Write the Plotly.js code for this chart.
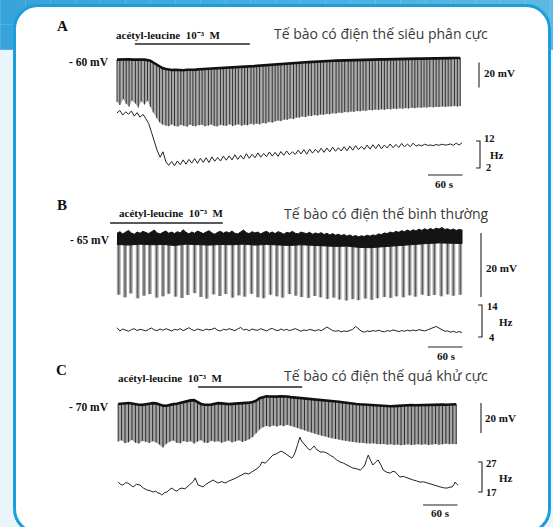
<!DOCTYPE html>
<html><head><meta charset="utf-8">
<script src="https://cdn.plot.ly/plotly-3.0.1.min.js"></script>
<style>
html,body{margin:0;padding:0;}
body{width:553px;height:527px;overflow:hidden;position:relative;background:#eaf5fb;}
#band{position:absolute;left:0;top:0;width:553px;height:50px;
 background:
  repeating-linear-gradient(0deg, rgba(255,255,255,0.13) 0 1px, transparent 1px 25px),
  repeating-linear-gradient(90deg, rgba(255,255,255,0.13) 0 1px, transparent 1px 25px),
  linear-gradient(90deg,#36a3da,#5cb9e4);}
#card{position:absolute;left:13px;top:4px;width:538px;height:530px;box-sizing:border-box;border:3px solid #1a9fdc;border-radius:25px;background:#fff;}
#chart{position:absolute;left:0;top:0;width:553px;height:527px;}
</style></head>
<body><div id="band"></div><div id="card"></div><div id="chart"></div>
<script>
// ---------------- DATA (time in s, potential in mV, frequency in Hz) ----------------
const t5 = [0,5,10,15,20,25,30,35,40,45,50,55,60,65,70,75,80,85,90,95,100,105,110,115,120,125,130,135,140,145,150,155,160,165,170,175,180,185,190,195,200,205,210,215,220,225,230,235,240,245,250,255,260,265,270,275,280,285,290,295,300,305,310,315,320,325,330,335,340,345,350,355,360,365,370,375,380,385,390,395,400,405,410,415,420,425,430,435,440,445,450,455,460,465,470,475,480,485,490,495,500,505,510,515,520,525,530,535,540,545,550,555,560,565,570,575,580,585,590,595,600];
const t20 = [0,20,40,60,80,100,120,140,160,180,200,220,240,260,280,300,320,340,360,380,400,420,440,460,480,500,520,540,560,580,600];

// Panel A
const restA = -60;
const drugA = [31, 231];
const spikeTimeA = [0,5,11,16,21,26,32,37,42,48,53,58,63,69,74,79,85,90,95,100,106,111,116,122,127,132,137,143,148,153,159,164,169,174,180,185,190,196,201,206,211,217,222,227,233,238,243,248,254,259,264,270,275,280,285,291,296,301,307,312,317,322,328,333,338,344,349,354,359,365,370,375,381,386,391,396,402,407,412,418,423,428,433,439,444,449,455,460,465,470,476,481,486,492,497,502,507,513,518,523,529,534,539,544,550,555,560,566,571,576,581,587,592,597];
const spikeTopA = [-59.7,-59.5,-59.8,-59.6,-59.4,-59.7,-59.5,-59.8,-59.6,-59.7,
 -59.9,-60.6,-62.0,-63.8,-65.3,-66.4,-67.2,-67.7,-68.0,-67.8,
 -68.1,-67.9,-68.2,-67.8,-67.9,-67.6,-67.7,-67.4,-67.3,-67.1,
 -67.0,-66.8,-66.9,-66.5,-66.6,-66.2,-66.3,-66.0,-65.8,-65.9,
 -65.6,-65.4,-65.5,-65.2,-65.0,-64.9,-64.7,-64.5,-64.4,-64.1,
 -64.0,-63.8,-63.5,-63.4,-63.1,-63.0,-62.8,-62.6,-62.5,-62.3,
 -62.2,-62.0,-61.8,-61.7,-61.5,-61.4,-61.2,-61.1,-60.9,-60.8,
 -60.7,-60.6,-60.5,-60.4,-60.4,-60.3,-60.2,-60.1,-60.1,-60.0,
 -59.9,-59.9,-59.8,-59.7,-59.7,-59.6,-59.6,-59.5,-59.5,-59.4,
 -59.4,-59.3,-59.3,-59.2,-59.2,-59.1,-59.1,-59.0,-59.0,-58.9,
 -58.9,-58.8,-58.8,-58.7,-58.7,-58.6,-58.6,-58.6,-58.5,-58.5,
 -58.5,-58.4,-58.4,-58.4];
const spikeBotA = [-93.5,-96.0,-91.2,-95.1,-97.3,-92.4,-94.8,-98.0,-93.1,-95.6,
 -92.6,-97.5,-102.0,-106.5,-109.8,-111.6,-112.4,-113.0,-111.5,-112.8,
 -113.2,-111.9,-112.6,-113.4,-111.7,-112.9,-113.1,-112.2,-111.8,-113.0,
 -112.5,-111.6,-112.8,-113.2,-111.9,-112.4,-112.7,-111.5,-112.9,-112.1,
 -111.4,-112.6,-111.8,-112.2,-111.0,-111.7,-110.9,-111.5,-110.4,-110.8,
 -109.6,-110.1,-109.0,-108.4,-108.9,-107.6,-107.9,-106.8,-107.2,-106.1,
 -106.0,-105.2,-105.6,-104.7,-104.9,-104.1,-104.4,-103.6,-103.9,-103.2,
 -103.4,-102.6,-102.9,-102.1,-102.4,-101.7,-101.9,-101.2,-101.5,-100.8,
 -101.0,-100.4,-100.7,-100.0,-100.3,-99.7,-100.0,-99.4,-99.8,-99.2,
 -99.5,-98.9,-99.3,-98.7,-99.0,-98.5,-98.8,-98.2,-98.6,-98.0,
 -98.3,-97.8,-98.1,-97.6,-97.9,-97.4,-97.7,-97.2,-97.5,-97.1,
 -97.3,-96.9,-97.2,-96.8];
const freqA = [22.4,23.3,21.6,22.8,21.9,23.1,21.2,22.5,20.8,21.9,
 20.3,18.5,15.2,11.5,8.4,6.0,8.0,4.3,3.0,4.4,
 2.8,4.6,3.2,5.0,3.4,5.2,3.8,5.5,3.7,5.6,
 4.1,5.8,4.0,6.1,4.5,5.9,4.6,6.4,4.9,6.5,
 5.0,6.9,5.2,6.7,5.3,7.3,5.6,7.1,5.8,7.6,
 6.0,7.4,6.2,7.9,6.4,7.8,6.3,8.1,6.7,8.3,
 6.9,8.0,7.0,8.6,7.2,8.8,7.1,9.0,7.5,8.9,
 7.7,9.3,7.8,9.4,8.0,9.7,8.2,9.5,8.3,9.9,
 8.4,10.1,8.6,10.3,8.8,10.0,8.9,10.5,9.0,10.6,
 9.2,10.8,9.1,10.5,9.4,10.9,9.5,10.7,9.6,11.1,
 9.8,10.9,9.9,11.2,10.1,10.6,10.2,10.8,10.4,10.5,
 10.3,10.7,10.4,10.8,10.5,10.6,10.9,10.4,11.2,10.5,11.3];

// Panel B
const restB = -65;
const drugB = [-12, 184];
const bandUpperB = [-62.9,-62.4,-63.1,-62.6,-62.0,-62.8,-63.2,-62.5,-62.9,-62.3,
 -62.7,-63.0,-62.4,-61.9,-62.8,-63.1,-62.6,-62.2,-62.9,-62.5,
 -63.0,-62.4,-62.8,-61.8,-62.6,-63.1,-62.5,-62.9,-62.2,-62.7,
 -63.0,-62.5,-62.1,-62.8,-63.2,-62.6,-62.3,-62.9,-62.4,-62.8,
 -62.2,-62.9,-63.1,-62.5,-61.9,-62.7,-63.0,-62.4,-62.8,-62.5,
 -63.1,-62.6,-62.3,-62.9,-62.5,-63.0,-62.4,-62.7,-63.2,-62.6,
 -62.8,-62.3,-62.9,-63.1,-62.5,-62.8,-63.0,-62.6,-63.2,-62.8,
 -63.1,-62.7,-63.3,-62.9,-63.4,-63.0,-63.5,-63.2,-63.6,-63.3,
 -63.8,-63.4,-63.9,-63.6,-64.0,-63.7,-63.9,-63.5,-63.8,-63.4,
 -63.6,-63.1,-63.3,-62.8,-63.0,-62.5,-62.8,-62.3,-62.6,-62.1,
 -62.4,-61.9,-62.3,-61.8,-62.2,-61.6,-62.0,-61.5,-61.9,-61.4,
 -61.8,-61.3,-61.6,-61.1,-61.7,-61.5,-61.9,-61.6,-62.0,-61.7,-61.9];
const bandLowerB = [-66.4,-66.6,-66.3,-66.5,-66.4,-66.7,-66.3,-66.5,-66.6,-66.4,-66.5,-66.3,-66.6,-66.4,-66.5,-66.7,-66.5,-66.6,-66.8,-67.0,-66.9,-67.3,-67.4,-67.2,-67.0,-66.7,-66.4,-66.1,-65.9,-66.0,-66.1];
const spikeTimeB = [3,14,24,36,47,57,69,80,90,102,113,123,135,146,156,168,179,189,201,212,222,234,245,255,267,278,288,300,311,321,333,344,354,366,377,387,399,410,420,432,443,453,465,476,486,498,509,519,531,542,552,564,575,585,597];
const spikeBotB = [-82.1,-82.9,-81.7,-83.2,-82.4,-81.9,-83.0,-82.6,-81.8,-82.7,
 -83.1,-82.2,-81.6,-82.8,-83.3,-82.0,-82.5,-81.9,-83.0,-82.3,
 -82.7,-81.8,-82.9,-83.2,-82.1,-82.6,-83.0,-81.9,-82.4,-82.8,
 -83.1,-82.5,-82.9,-83.4,-83.0,-83.6,-83.9,-83.5,-83.8,-83.3,
 -83.7,-83.2,-82.8,-83.1,-82.6,-82.9,-82.3,-82.7,-82.1,-82.5,
 -82.2,-82.6,-82.0,-82.4,-82.1];
const freqB = [6.9,5.9,6.5,6.1,5.8,6.3,6.6,6.0,6.4,6.2,
 5.9,6.4,6.8,6.2,6.0,6.5,6.1,6.6,6.3,5.9,
 6.4,6.2,6.6,6.0,6.4,6.9,6.3,6.0,6.5,6.3,
 6.0,6.5,6.2,6.4,6.8,6.1,5.9,6.4,6.2,6.6,
 6.3,6.0,6.5,7.0,6.2,6.4,6.0,6.5,6.2,6.1,
 6.6,6.3,5.9,6.4,6.7,6.2,6.0,6.5,6.1,6.4,
 6.0,6.3,6.6,6.2,5.8,6.2,6.0,6.4,6.1,5.9,
 6.3,6.0,6.5,7.1,6.6,6.0,5.8,6.0,5.6,5.9,
 5.7,6.0,6.4,7.3,6.4,5.8,5.5,5.9,5.7,6.0,
 5.8,6.1,5.8,5.6,6.0,5.8,6.2,5.9,5.7,6.0,
 5.8,6.1,5.9,6.2,5.9,6.3,6.1,5.9,6.2,6.6,
 7.0,7.3,6.8,6.2,5.8,5.9,5.5,5.8,5.4,5.7,5.4];

// Panel C
const restC = -70;
const drugC = [141, 322];
const spikeTimeC = [2,8,14,20,26,32,38,44,50,56,62,68,74,80,86,92,98,104,110,116,122,128,134,140,146,152,158,164,170,176,182,188,194,200,206,212,218,224,230,236,242,248,254,260,266,272,278,284,290,296,302,308,314,320,326,332,338,344,350,356,362,368,374,380,386,392,398,404,410,416,422,428,434,440,446,452,458,464,470,476,482,488,494,500,506,512,518,524,530,536,542,548,554,560,566,572,578,584,590];
const spikeTopC = [-70.0,-69.8,-69.5,-69.3,-69.7,-70.2,-70.5,-70.6,-70.4,-69.8,
 -69.4,-69.6,-70.4,-71.1,-71.2,-70.5,-70.1,-69.8,-69.2,-68.8,
 -68.2,-67.6,-67.4,-69.0,-70.0,-70.5,-70.7,-70.4,-69.8,-69.4,
 -69.6,-69.9,-70.1,-69.9,-69.8,-69.5,-69.3,-69.4,-69.1,-68.7,
 -67.8,-66.2,-65.3,-64.8,-65.0,-65.3,-65.1,-64.8,-64.7,-65.0,
 -65.4,-65.6,-66.0,-66.1,-66.0,-66.2,-66.4,-66.7,-66.8,-67.1,
 -67.4,-67.6,-67.9,-68.2,-68.5,-68.8,-69.2,-69.4,-69.7,-70.0,
 -70.2,-70.4,-70.6,-70.7,-70.9,-71.0,-71.2,-71.3,-71.4,-71.5,
 -71.4,-71.2,-71.0,-70.8,-70.9,-70.7,-70.8,-70.7,-70.6,-70.7,
 -70.6,-70.5,-70.7,-70.5,-70.4,-70.5,-70.3,-70.4,-70.2];
const spikeBotC = [-95.0,-94.2,-96.1,-95.5,-94.0,-95.8,-96.3,-94.6,-95.2,-96.0,
 -94.8,-95.6,-97.0,-99.0,-96.5,-95.1,-94.3,-95.9,-96.2,-94.7,
 -95.3,-94.9,-96.4,-95.0,-94.1,-95.7,-96.0,-94.5,-95.2,-94.8,
 -95.9,-95.1,-94.4,-95.6,-94.9,-94.2,-95.3,-94.6,-93.5,-92.0,
 -89.5,-87.0,-85.5,-84.6,-85.2,-84.3,-85.0,-84.1,-84.8,-83.9,
 -84.5,-85.3,-86.0,-86.8,-87.5,-88.4,-89.0,-89.8,-90.5,-91.2,
 -91.6,-92.3,-92.9,-93.4,-93.8,-94.3,-94.6,-95.0,-95.3,-95.6,
 -95.9,-96.0,-96.3,-96.5,-96.2,-96.7,-96.9,-96.6,-97.1,-96.8,
 -97.3,-97.0,-97.5,-97.2,-96.9,-97.4,-97.1,-96.8,-97.2,-96.9,
 -97.3,-97.0,-96.7,-97.1,-96.8,-96.5,-96.9,-96.6,-96.8];
const freqTimeC = [2,6,10,15,19,24,28,34,40,46,52,58,63,67,71,75,78,83,87,92,96,100,104,109,113,118,122,126,130,133,136,139,141,146,150,154,158,163,167,172,176,182,188,194,200,205,210,216,223,229,235,240,245,249,252,258,263,267,271,276,280,285,289,293,297,301,304,307,310,314,318,321,324,327,330,333,336,340,343,346,348,351,353,359,365,371,376,382,388,394,400,405,410,416,423,427,431,434,437,441,445,450,454,459,463,469,475,480,484,488,492,498,504,510,515,521,527,533,539,545,550,556,562,568,574,579,583,586,588,591,593];
const freqC = [20.3,19.6,19.3,20.1,20.0,19.2,18.7,19.6,19.3,18.3,17.7,17.4,17.0,17.3,16.7,16.5,16.0,16.8,17.0,17.9,18.3,17.6,17.3,18.1,18.3,18.0,18.7,19.2,20.0,20.6,21.7,20.4,19.3,19.0,18.7,19.5,20.0,20.4,21.0,20.4,20.0,20.5,20.0,20.6,21.0,21.5,22.0,22.6,23.3,23.0,23.7,24.4,25.0,25.8,27.0,26.6,27.7,28.6,29.3,29.6,30.0,30.6,30.3,29.8,29.3,28.7,28.3,29.0,30.3,32.8,35.3,34.0,33.3,32.4,31.7,31.3,31.0,31.8,32.3,31.5,31.0,30.8,30.3,30.4,30.0,29.2,28.7,27.7,27.0,26.6,26.0,25.6,25.0,24.8,24.3,25.0,26.0,27.8,29.3,27.5,26.0,27.0,27.7,26.0,24.3,23.6,23.3,23.9,23.7,22.8,22.0,22.2,21.7,21.4,21.0,20.7,20.3,20.4,20.0,19.7,19.3,19.0,18.7,18.4,18.3,18.6,18.7,19.5,20.3,19.6,19.3];

// Scale bars and labels
const scaleMV = 20, scaleS = 60;
const hzScaleA = [2, 12], hzScaleB = [4, 14], hzScaleC = [17, 27];
const panelLabels = ['A', 'B', 'C'];
const restLabels = ['- 60 mV', '- 65 mV', '- 70 mV'];
const drugLabel = 'acétyl-leucine\u00a0\u00a010\u207b\u00b3\u00a0\u00a0M';
const titles = ['Tế bào có điện thế siêu phân cực', 'Tế bào có điện thế bình thường', 'Tế bào có điện thế quá khử cực'];

// ---------------- LAYOUT HELPERS ----------------
const W = 553, H = 527;
const X0PX = 117, PXS = 0.575;              // t = 0 s at x = 117 px; 0.575 px per second
const tx = px => (px - X0PX) / PXS;
const pxX = px => px / W, pxY = py => 1 - py / H;
function yax(s){return {domain:[1-s.bot/H,1-s.top/H], range:[s.v0-(s.bot-s.px0)/s.k, s.v0+(s.px0-s.top)/s.k], visible:false, fixedrange:true, anchor:'x'};}
const val = (s, px) => s.v0 + (s.px0 - px) / s.k;
const axVA = {top:40, bot:135, v0:restA, px0:60, k:1.25};
const axFA = {top:100, bot:185, v0:hzScaleA[0], px0:168, k:2.7};
const axVB = {top:220, bot:305, v0:restB, px0:240, k:3.2};
const axFB = {top:295, bot:352, v0:hzScaleB[0], px0:337, k:3.2};
const axVC = {top:385, bot:455, v0:restC, px0:404, k:1.5};
const axFC = {top:425, bot:515, v0:hzScaleC[0], px0:492, k:3};

function spikeTraces(t, top, bot, yaxis, fill, lineCol){
  const n = Math.min(t.length, top.length, bot.length);
  const fx=[], fy=[], sx=[], sy=[];
  for(let i=0;i<n;i++){fx.push(t[i]); fy.push(top[i]);}
  for(let i=n-1;i>=0;i--){fx.push(t[i]); fy.push(bot[i]);}
  for(let i=0;i<n;i++){sx.push(t[i],t[i],null); sy.push(top[i],bot[i],null);}
  return [
    {x:fx, y:fy, yaxis, mode:'lines', fill:'toself', fillcolor:fill, line:{width:0}, hoverinfo:'skip'},
    {x:sx, y:sy, yaxis, mode:'lines', line:{color:lineCol, width:1}, hoverinfo:'skip'},
    {x:t.slice(0,n), y:top.slice(0,n), yaxis, mode:'lines', line:{color:'#111', width:2.6}, hoverinfo:'skip'}
  ];
}
const traces = [];
// A
traces.push(...spikeTraces(spikeTimeA, spikeTopA, spikeBotA, 'y', '#ababab', '#333'));
traces.push({x:t5, y:freqA, yaxis:'y2', mode:'lines', line:{color:'#222', width:1}});
// B
(function(){
  const sx=[], sy=[];
  const n = Math.min(spikeTimeB.length, spikeBotB.length);
  for(let i=0;i<n;i++){sx.push(spikeTimeB[i],spikeTimeB[i],null); sy.push(restB,spikeBotB[i],null);}
  traces.push({x:sx, y:sy, yaxis:'y3', mode:'lines', line:{color:'#a3a3a3', width:3.8}});
  traces.push({x:sx, y:sy, yaxis:'y3', mode:'lines', line:{color:'#4a4a4a', width:0.9}});
  const bx = t5.concat(t20.slice().reverse());
  const by = bandUpperB.concat(bandLowerB.slice().reverse());
  traces.push({x:bx, y:by, yaxis:'y3', mode:'lines', fill:'toself', fillcolor:'#141414', line:{color:'#141414', width:1}});
})();
traces.push({x:t5, y:freqB, yaxis:'y4', mode:'lines', line:{color:'#222', width:1}});
// C
traces.push(...spikeTraces(spikeTimeC, spikeTopC, spikeBotC, 'y5', '#a5a5a5', '#2a2a2a'));
traces.push({x:freqTimeC, y:freqC, yaxis:'y6', mode:'lines', line:{color:'#222', width:1}});

// shapes
const ink = '#222';
function hzBracket(xpx, yref, sc){
  const xr = tx(xpx), xl = tx(xpx-4);
  return {type:'path', xref:'x', yref, path:`M${xl},${sc[1]} L${xr},${sc[1]} L${xr},${sc[0]} L${xl},${sc[0]}`, line:{color:ink, width:1.1}};
}
const shapes = [
  {type:'line', xref:'x', yref:'y',  x0:drugA[0], x1:drugA[1], y0:val(axVA,44),  y1:val(axVA,44),  line:{color:ink,width:1.3}},
  {type:'line', xref:'x', yref:'y3', x0:drugB[0], x1:drugB[1], y0:val(axVB,223), y1:val(axVB,223), line:{color:ink,width:1.3}},
  {type:'line', xref:'x', yref:'y5', x0:drugC[0], x1:drugC[1], y0:val(axVC,387), y1:val(axVC,387), line:{color:ink,width:1.3}},
  {type:'line', xref:'x', yref:'y',  x0:tx(479), x1:tx(479), y0:val(axVA,62.5), y1:val(axVA,62.5)-scaleMV, line:{color:ink,width:1.1}},
  {type:'line', xref:'x', yref:'y3', x0:tx(481), x1:tx(481), y0:val(axVB,233),  y1:val(axVB,233)-scaleMV,  line:{color:ink,width:1.1}},
  {type:'line', xref:'x', yref:'y5', x0:tx(481), x1:tx(481), y0:val(axVC,403),  y1:val(axVC,403)-scaleMV,  line:{color:ink,width:1.1}},
  hzBracket(480, 'y2', hzScaleA), hzBracket(482, 'y4', hzScaleB), hzBracket(482, 'y6', hzScaleC),
  {type:'line', xref:'x', yref:'y2', x0:tx(428), x1:tx(428)+scaleS, y0:val(axFA,175), y1:val(axFA,175), line:{color:ink,width:1.1}},
  {type:'line', xref:'x', yref:'y4', x0:tx(428), x1:tx(428)+scaleS, y0:val(axFB,347), y1:val(axFB,347), line:{color:ink,width:1.1}},
  {type:'line', xref:'x', yref:'y6', x0:tx(423), x1:tx(423)+scaleS, y0:val(axFC,505), y1:val(axFC,505), line:{color:ink,width:1.1}}
];

// annotations
const serif = 'Liberation Serif, Times New Roman, serif';
function ann(text, x, y, size, opts){
  return Object.assign({text, x:pxX(x), y:pxY(y), xref:'paper', yref:'paper', showarrow:false, xanchor:'left', yanchor:'middle',
    font:{family:serif, size, color:'#111', weight:700}}, opts||{});
}
const sans = {family:'Open Sans, Noto Sans, sans-serif', size:14, color:'#3a3a3a', weight:400};
const annotations = [
  ann(panelLabels[0], 62, 26, 15, {xanchor:'center'}),
  ann(panelLabels[1], 62, 205, 15, {xanchor:'center'}),
  ann(panelLabels[2], 61, 370, 15, {xanchor:'center'}),
  ann(drugLabel, 114, 35, 11),
  ann(drugLabel, 117, 213, 11),
  ann(drugLabel, 116, 378, 11),
  ann(titles[0], 272, 33.5, 14, {font:sans}),
  ann(titles[1], 282, 214, 14, {font:sans}),
  ann(titles[2], 282, 375, 14, {font:sans}),
  ann(restLabels[0], 111, 62, 11.5, {xanchor:'right'}),
  ann(restLabels[1], 112, 240, 11.5, {xanchor:'right'}),
  ann(restLabels[2], 111, 407, 11.5, {xanchor:'right'}),
  ann(scaleMV + ' mV', 482, 73, 11),
  ann(scaleMV + ' mV', 484, 268, 11),
  ann(scaleMV + ' mV', 483, 418, 11),
  ann(String(hzScaleA[1]), 482, 139, 10.5), ann('Hz', 488, 155, 11), ann(String(hzScaleA[0]), 484, 167, 10.5),
  ann(String(hzScaleB[1]), 485, 306, 10.5), ann('Hz', 497, 322, 11), ann(String(hzScaleB[0]), 487, 337, 10.5),
  ann(String(hzScaleC[1]), 484, 463, 10.5), ann('Hz', 497, 478, 11), ann(String(hzScaleC[0]), 484, 492, 10.5),
  ann(scaleS + ' s', 444, 184, 11, {xanchor:'center'}),
  ann(scaleS + ' s', 446, 356, 11, {xanchor:'center'}),
  ann(scaleS + ' s', 440, 513, 11, {xanchor:'center'})
];

const layout = {
  width:W, height:H, margin:{l:0,r:0,t:0,b:0},
  paper_bgcolor:'rgba(0,0,0,0)', plot_bgcolor:'rgba(0,0,0,0)', showlegend:false,
  xaxis:{domain:[0,1], range:[tx(0), tx(W)], visible:false, fixedrange:true, anchor:'y'},
  yaxis:yax(axVA), yaxis2:yax(axFA), yaxis3:yax(axVB), yaxis4:yax(axFB), yaxis5:yax(axVC), yaxis6:yax(axFC),
  shapes, annotations
};
Plotly.newPlot('chart', traces, layout, {staticPlot:true, displayModeBar:false});
</script></body></html>
